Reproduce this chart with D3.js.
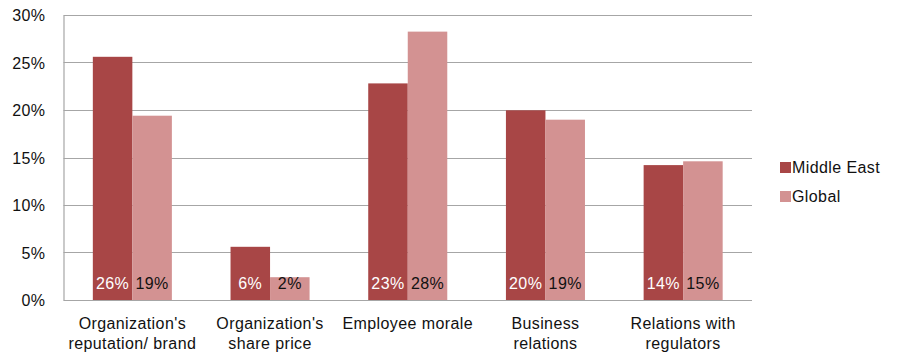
<!DOCTYPE html>
<html>
<head>
<meta charset="utf-8">
<script src="https://cdn.jsdelivr.net/npm/d3@7"></script>
<style>
  html, body { margin: 0; padding: 0; background: #fff; }
  svg { display: block; font-family: "Liberation Sans", Arial, Helvetica, sans-serif; letter-spacing: 0.4px; }
</style>
</head>
<body>
<svg id="chart" width="898" height="356"></svg>
<script>
// Categories (two-line labels) and series values (share of respondents)
const categories = [
  ["Organization's", "reputation/ brand"],
  ["Organization's", "share price"],
  ["Employee morale"],
  ["Business", "relations"],
  ["Relations with", "regulators"]
];
const seriesNames = ["Middle East", "Global"];
const middleEast = [0.256, 0.056, 0.228, 0.1997, 0.142];
const global = [0.194, 0.024, 0.2825, 0.1898, 0.146];
const yTicks = [0, 0.05, 0.10, 0.15, 0.20, 0.25, 0.30];

const colors = ["#A84646", "#D39292"];
const labelColors = ["#ffffff", "#111111"];
const fontSize = 16;

const svg = d3.select("#chart");
const margin = { left: 63.5, right: 146, top: 15, bottom: 56 };
const W = 898, H = 356;
const innerW = W - margin.left - margin.right;
const innerH = H - margin.top - margin.bottom;

const g = svg.append("g").attr("transform", `translate(${margin.left},${margin.top})`);

const x0 = d3.scaleBand().domain(d3.range(categories.length)).range([0, innerW])
  .paddingInner(0.426).paddingOuter(0.213);
const x1 = d3.scaleBand().domain(seriesNames).range([0, x0.bandwidth()]);
const y = d3.scaleLinear().domain([0, 0.30]).range([innerH, 0]);

// Horizontal gridlines
g.append("g")
  .selectAll("line")
  .data(yTicks)
  .join("line")
  .attr("x1", 0).attr("x2", innerW)
  .attr("y1", d => Math.round(y(d)) + 0.5).attr("y2", d => Math.round(y(d)) + 0.5)
  .attr("stroke", "#a6a6a6").attr("stroke-width", 1.2);

// Y axis
const yAxis = g.append("g")
  .call(d3.axisLeft(y).tickValues(yTicks).tickFormat(d3.format(".0%")).tickSize(0).tickPadding(18));
yAxis.select(".domain").attr("stroke", "#a6a6a6").attr("stroke-width", 1.2);
yAxis.selectAll("text").attr("font-size", fontSize).attr("fill", "#111").attr("dy", "0.36em");

// Bars
const series = [middleEast, global];
const groups = g.append("g").selectAll("g")
  .data(categories.map((c, i) => i))
  .join("g")
  .attr("transform", i => `translate(${x0(i)},0)`);

groups.selectAll("rect")
  .data(i => seriesNames.map((s, k) => ({ s, k, v: series[k][i] })))
  .join("rect")
  .attr("x", d => x1(d.s))
  .attr("y", d => y(d.v))
  .attr("width", x1.bandwidth())
  .attr("height", d => innerH - y(d.v))
  .attr("fill", d => colors[d.k]);

// Value labels near bar base
groups.selectAll("text.val")
  .data(i => seriesNames.map((s, k) => ({ s, k, v: series[k][i] })))
  .join("text")
  .attr("class", "val")
  .attr("x", d => x1(d.s) + x1.bandwidth() / 2)
  .attr("y", innerH - 11)
  .attr("text-anchor", "middle")
  .attr("font-size", fontSize)
  .attr("fill", d => labelColors[d.k])
  .text(d => d3.format(".0%")(d.v));

// Category labels
const catLabels = g.append("g").selectAll("text")
  .data(categories)
  .join("text")
  .attr("x", (c, i) => x0(i) + x0.bandwidth() / 2)
  .attr("y", innerH + 29)
  .attr("text-anchor", "middle")
  .attr("font-size", fontSize)
  .attr("fill", "#111");
catLabels.selectAll("tspan")
  .data(c => c)
  .join("tspan")
  .attr("x", function () { return d3.select(this.parentNode).attr("x"); })
  .attr("dy", (t, j) => j === 0 ? 0 : 20)
  .text(t => t);

// Legend
const legend = svg.append("g").attr("transform", "translate(780,162)");
const li = legend.selectAll("g").data(seriesNames).join("g")
  .attr("transform", (d, k) => `translate(0,${k * 29})`);
li.append("rect").attr("width", 11).attr("height", 11).attr("fill", (d, k) => colors[k]);
li.append("text").attr("x", 12).attr("y", 10.5).attr("font-size", fontSize).attr("fill", "#111").text(d => d);
</script>
</body>
</html>
